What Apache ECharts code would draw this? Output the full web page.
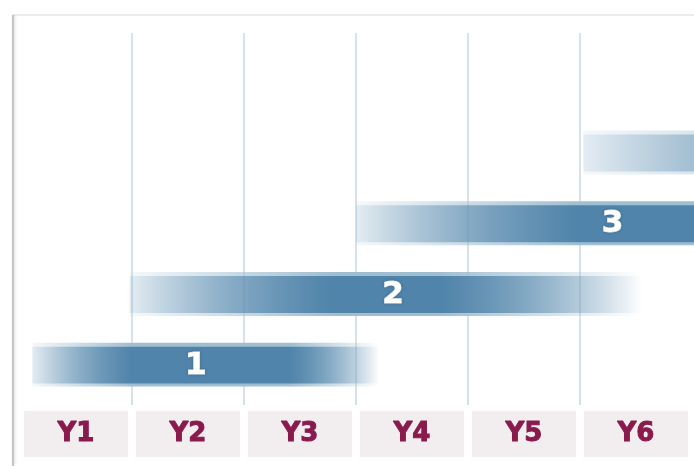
<!DOCTYPE html>
<html>
<head>
<meta charset="utf-8">
<script src="https://cdn.jsdelivr.net/npm/echarts@6/dist/echarts.min.js"></script>
<style>
  html, body { margin: 0; padding: 0; background: #ffffff; }
  #chart { width: 694px; height: 466px; }
</style>
</head>
<body>
<div id="chart"></div>
<script>
// years on the bottom
var years = ['Y1', 'Y2', 'Y3', 'Y4', 'Y5', 'Y6'];

// phases (x in years from the left edge of Y1)
var phaseNames  = ['1', '2', '3', ''];
var phaseRow    = [1, 2, 3, 4];
var phaseStart  = [0.11, 0.98, 3.00, 5.03];
var phaseFull   = [1.00, 2.80, 5.00, 8.00];   // where the fade-in reaches full colour
var phaseFadeAt = [2.41, 3.75, 6.02, 8.00];   // where the fade-out begins
var phaseEnd    = [3.21, 5.55, 6.02, 6.02];
var labelAt     = [1.57, 3.33, 5.29, 0];

var data = [];
for (var i = 0; i < phaseNames.length; i++) {
  data.push([phaseStart[i], phaseEnd[i], phaseRow[i], phaseFull[i], phaseFadeAt[i], labelAt[i], phaseNames[i]]);
}

function alphaAt(p, s, fs, fe, e) {
  var a = 1;
  if (p < fs) a = 0.1 + 0.9 * (p - s) / (fs - s);
  else if (p > fe) a = (e - p) / (e - fe);
  return Math.max(0, Math.min(1, a));
}

function fadeFill(rgb, s, fs, fe, e) {
  var pts = [s, Math.min(Math.max(fs, s), e), Math.min(Math.max(fe, s), e), e];
  var stops = [];
  for (var i = 0; i < pts.length; i++) {
    var off = (pts[i] - s) / (e - s);
    stops.push({ offset: off, color: 'rgba(' + rgb + ',' + alphaAt(pts[i], s, fs, fe, e).toFixed(3) + ')' });
  }
  return new echarts.graphic.LinearGradient(0, 0, 1, 0, stops);
}

function renderPhase(params, api) {
  var s = api.value(0), e = api.value(1), row = api.value(2);
  var fs = api.value(3), fe = api.value(4), lx = api.value(5);
  var name = data[params.dataIndex][6];
  var p0 = api.coord([s, row]);
  var p1 = api.coord([e, row]);
  var h = api.size([0, 1])[1] * 0.62;
  var children = [
    {
      type: 'rect',
      shape: { x: p0[0], y: p0[1] - h / 2, width: p1[0] - p0[0], height: h },
      style: { fill: fadeFill('160,190,210', s, fs, fe, e) }
    },
    {
      type: 'rect',
      shape: { x: p0[0], y: p0[1] - h / 2 + 4, width: p1[0] - p0[0], height: h - 7 },
      style: { fill: fadeFill('80,132,170', s, fs, fe, e) }
    }
  ];
  if (name) {
    var pl = api.coord([lx, row]);
    children.push({
      type: 'text',
      x: pl[0], y: pl[1] + 1,
      style: {
        text: name, fill: '#ffffff', align: 'center', verticalAlign: 'middle',
        font: 'bold 31px "DejaVu Sans"',
        stroke: '#ffffff', lineWidth: 1,
        textShadowColor: 'rgba(30,60,90,0.35)', textShadowBlur: 3
      }
    });
  }
  return { type: 'group', children: children };
}

var chart = echarts.init(document.getElementById('chart'));
var option = {
  backgroundColor: '#ffffff',
  animation: false,
  grid: { left: 20, right: 2, top: 33, bottom: 61 },
  graphic: [
    { type: 'line', shape: { x1: 13, y1: 15, x2: 694, y2: 15 },
      style: { stroke: '#e6e6e6', lineWidth: 1.5 } },
    { type: 'line', shape: { x1: 13, y1: 15, x2: 13, y2: 466 },
      style: { stroke: '#c4c4c4', lineWidth: 2, shadowColor: 'rgba(0,0,0,0.15)', shadowBlur: 3, shadowOffsetX: 1 } }
  ],
  xAxis: [
    {
      type: 'value', min: 0, max: 6, interval: 1,
      axisLine: { show: false }, axisTick: { show: false }, axisLabel: { show: false },
      splitLine: { show: true, showMinLine: false, showMaxLine: false,
        lineStyle: { color: '#d8e2ea', width: 2 } }
    },
    {
      type: 'category', data: years, position: 'bottom', boundaryGap: true,
      axisLine: { show: false }, axisTick: { show: false }, splitLine: { show: false },
      axisLabel: {
        margin: 6, color: '#8a1a4c', fontFamily: 'DejaVu Sans', fontWeight: 'bold', fontSize: 26,
        textBorderColor: '#8a1a4c', textBorderWidth: 1,
        backgroundColor: '#f2eef0', width: 104, height: 46, lineHeight: 46, align: 'center', padding: 0
      }
    }
  ],
  yAxis: {
    type: 'value', min: 0.43, max: 5.69, show: false, splitLine: { show: false }
  },
  series: [{
    type: 'custom',
    renderItem: renderPhase,
    clip: false,
    encode: { x: [0, 1], y: 2 },
    data: data
  }]
};
chart.setOption(option);
</script>
</body>
</html>
